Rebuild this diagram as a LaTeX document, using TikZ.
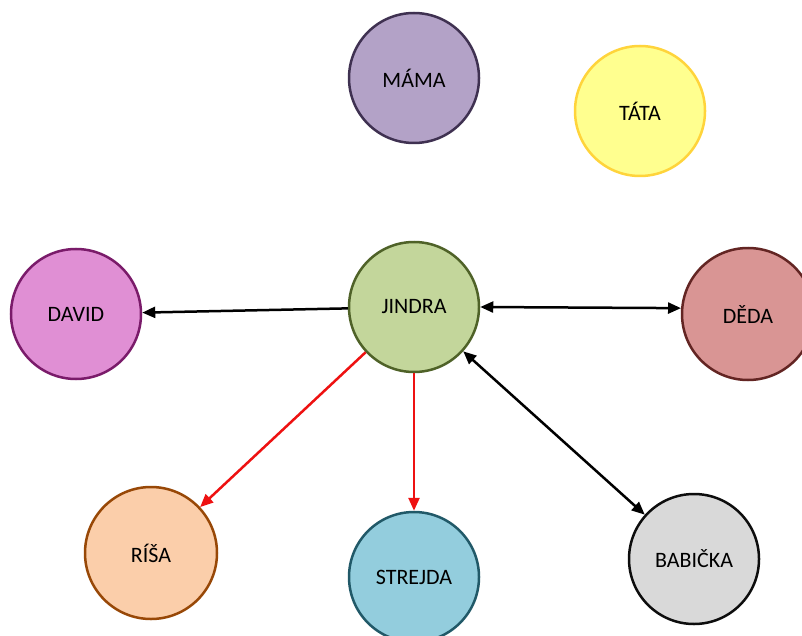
\documentclass[tikz,border=0pt]{standalone}
\usepackage{fontspec}
\setmainfont{Carlito}
\usetikzlibrary{arrows.meta}
\definecolor{mamaF}{HTML}{B3A2C7}\definecolor{mamaD}{HTML}{3F3151}
\definecolor{tataF}{HTML}{FFFF8F}\definecolor{tataD}{HTML}{FFD43B}
\definecolor{jinF}{HTML}{C3D69B}\definecolor{jinD}{HTML}{4F6228}
\definecolor{davF}{HTML}{E08FD4}\definecolor{davD}{HTML}{7A1B6A}
\definecolor{dedF}{HTML}{D99594}\definecolor{dedD}{HTML}{632523}
\definecolor{risF}{HTML}{FBCEAA}\definecolor{risD}{HTML}{984807}
\definecolor{strF}{HTML}{93CDDD}\definecolor{strD}{HTML}{215968}
\definecolor{babF}{HTML}{D9D9D9}\definecolor{babD}{HTML}{0D0D0D}
\definecolor{redA}{HTML}{EE1111}
\begin{document}
\begin{tikzpicture}[x=1pt,y=-1pt,
  person/.style={circle,minimum size=130pt,inner sep=0pt,line width=2.5pt,font=\fontsize{22}{24}\selectfont},
  conn/.style={line width=2.5pt,-{Triangle[length=13pt,width=11pt]}},
  both/.style={line width=2.5pt,{Triangle[length=13pt,width=11pt]}-{Triangle[length=13pt,width=11pt]}},
  redconn/.style={conn,draw=redA}]
\useasboundingbox[fill=white] (0,0) rectangle (802,636);
\node[person,fill=mamaF,draw=mamaD] (mama) at (414,78) {\raisebox{-3pt}{MÁMA}};
\node[person,fill=tataF,draw=tataD] (tata) at (640,111) {\raisebox{-3pt}{TÁTA}};
\node[person,fill=jinF,draw=jinD] (jindra) at (414,307) {\raisebox{-3pt}{JINDRA}};
\node[person,fill=davF,draw=davD] (david) at (76,314) {\raisebox{-3pt}{DAVID}};
\node[person,fill=dedF,draw=dedD,minimum size=132pt] (deda) at (748,314) {\raisebox{-3pt}{DĚDA}};
\node[person,fill=risF,draw=risD,minimum size=132pt] (risa) at (151,553) {\raisebox{-3pt}{RÍŠA}};
\node[person,fill=strF,draw=strD] (strejda) at (414,577) {STREJDA};
\node[person,fill=babF,draw=babD] (babicka) at (694,559) {BABIČKA};
\draw[conn] (jindra) -- (david);
\draw[both] (jindra.0) -- (deda.175);
\draw[both] (jindra) -- (babicka);
\draw[redconn] (jindra) -- (risa);
\draw[redconn] (jindra) -- (strejda);
\end{tikzpicture}
\end{document}
